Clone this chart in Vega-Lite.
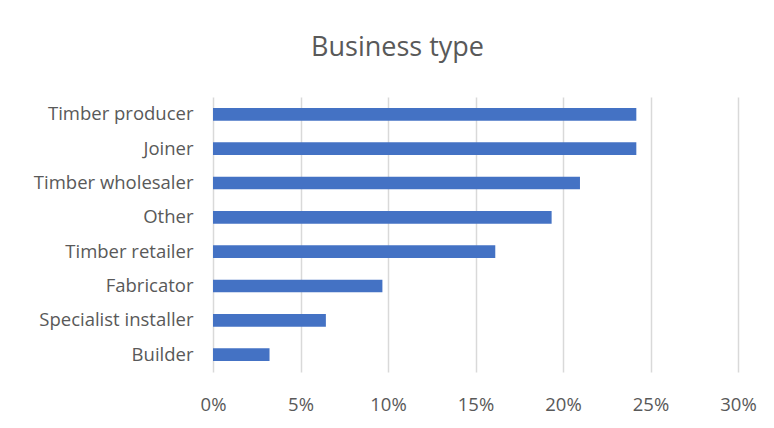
{
  "$schema": "https://vega.github.io/schema/vega-lite/v6.json",
  "width": 525,
  "height": 275,
  "autosize": {"type": "none"},
  "padding": {"left": 213, "top": 97, "right": 36, "bottom": 56},
  "background": "white",
  "title": {
    "text": "Business type",
    "anchor": "middle",
    "frame": "group",
    "dx": -78,
    "offset": 14,
    "baseline": "alphabetic",
    "font": "Open Sans",
    "fontSize": 27,
    "fontWeight": "normal",
    "color": "#595959"
  },
  "data": {
    "values": [
      {"type": "Timber producer", "share": 0.2419},
      {"type": "Joiner", "share": 0.2419},
      {"type": "Timber wholesaler", "share": 0.2097},
      {"type": "Other", "share": 0.1935},
      {"type": "Timber retailer", "share": 0.1613},
      {"type": "Fabricator", "share": 0.0968},
      {"type": "Specialist installer", "share": 0.0645},
      {"type": "Builder", "share": 0.0323}
    ]
  },
  "mark": {"type": "bar", "color": "#4472C4"},
  "encoding": {
    "y": {
      "field": "type",
      "type": "nominal",
      "sort": null,
      "scale": {"paddingInner": 0.63, "paddingOuter": 0.32},
      "axis": {
        "title": null,
        "ticks": false,
        "domain": false,
        "labelPadding": 20,
        "labelFont": "Open Sans",
        "labelFontSize": 18.5,
        "labelColor": "#595959"
      }
    },
    "x": {
      "field": "share",
      "type": "quantitative",
      "scale": {"domain": [0, 0.3]},
      "axis": {
        "title": null,
        "format": ".0%",
        "values": [0, 0.05, 0.1, 0.15, 0.2, 0.25, 0.3],
        "labelOverlap": false,
        "labelFlush": false,
        "ticks": false,
        "domain": false,
        "labelPadding": 23,
        "labelFont": "Open Sans",
        "labelFontSize": 18.5,
        "labelColor": "#595959",
        "gridColor": "#d9d9d9",
        "gridWidth": 1.5
      }
    }
  },
  "config": {"view": {"stroke": null}}
}
